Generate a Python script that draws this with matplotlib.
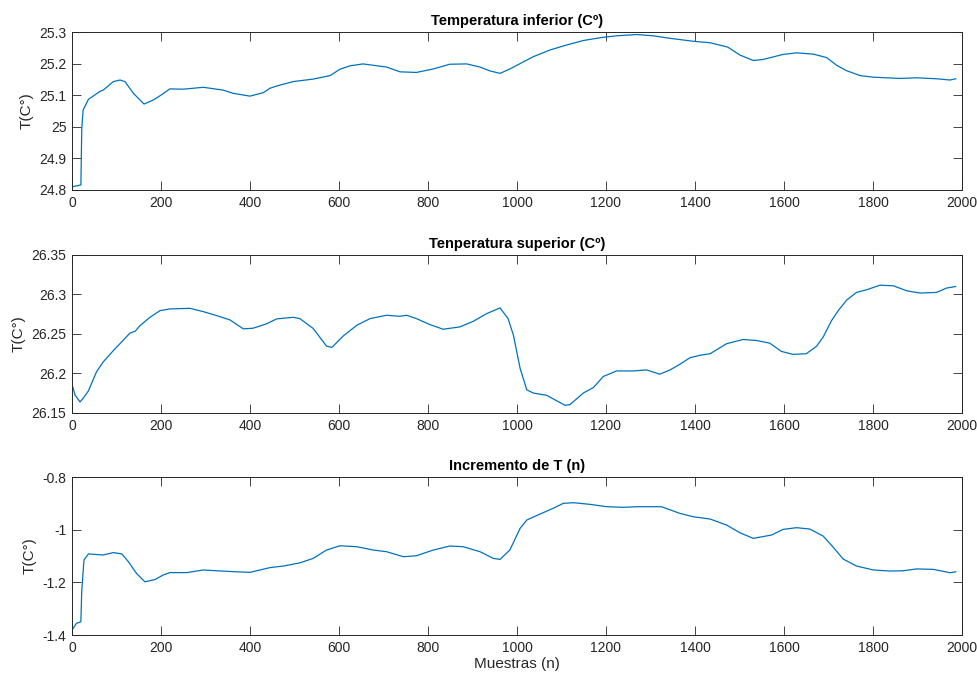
import matplotlib.pyplot as plt
from matplotlib.ticker import FuncFormatter

plt.rcParams['font.family'] = ['Liberation Sans', 'DejaVu Sans']

# Temperatura inferior
x_inf = [0, 20, 22, 25, 37, 63, 70, 93, 108, 119, 138, 162, 183, 202, 220, 250, 295,
         340, 362, 400, 430, 445, 460, 497, 542, 580, 602, 625, 654, 707, 737, 774, 812,
         849, 887, 917, 939, 962, 984, 1007, 1037, 1074, 1112, 1149, 1187, 1224, 1269,
         1306, 1344, 1400, 1434, 1474, 1501, 1531, 1553, 1598, 1628, 1666, 1696, 1718,
         1740, 1771, 1801, 1861, 1898, 1943, 1973, 1986]
y_inf = [24.81, 24.816, 24.995, 25.053, 25.087, 25.112, 25.116, 25.143, 25.148, 25.143,
         25.106, 25.072, 25.085, 25.102, 25.12, 25.119, 25.125, 25.116, 25.106, 25.097,
         25.108, 25.122, 25.129, 25.143, 25.151, 25.162, 25.182, 25.193, 25.199, 25.189,
         25.174, 25.172, 25.183, 25.198, 25.199, 25.189, 25.177, 25.169, 25.183, 25.2,
         25.222, 25.243, 25.259, 25.273, 25.282, 25.288, 25.292, 25.288, 25.28, 25.27,
         25.266, 25.252, 25.227, 25.21, 25.213, 25.229, 25.234, 25.23, 25.219, 25.195,
         25.178, 25.162, 25.157, 25.153, 25.155, 25.152, 25.148, 25.152]

# Temperatura superior
x_sup = [0, 7, 18, 25, 37, 55, 70, 93, 115, 130, 142, 153, 175, 198, 220, 265, 295,
         325, 355, 385, 407, 437, 460, 497, 512, 542, 572, 584, 610, 640, 670, 707, 737,
         752, 774, 804, 834, 872, 902, 932, 962, 980, 992, 1007, 1022, 1037, 1067, 1089,
         1108, 1119, 1149, 1172, 1194, 1224, 1261, 1291, 1321, 1344, 1366, 1389, 1411,
         1434, 1471, 1508, 1538, 1568, 1594, 1620, 1650, 1673, 1688, 1707, 1722, 1741,
         1763, 1786, 1816, 1846, 1876, 1906, 1943, 1965, 1986]
y_sup = [26.1865, 26.1726, 26.164, 26.1685, 26.178, 26.202, 26.2145, 26.229, 26.242,
         26.251, 26.2535, 26.2607, 26.271, 26.2796, 26.2817, 26.2825, 26.2783, 26.2733,
         26.2678, 26.2565, 26.2573, 26.2628, 26.2691, 26.2711, 26.2695, 26.257, 26.2347,
         26.233, 26.2477, 26.261, 26.2695, 26.2737, 26.2724, 26.2737, 26.2695, 26.262,
         26.256, 26.259, 26.2661, 26.2758, 26.283, 26.2695, 26.2485, 26.2066, 26.1793,
         26.1752, 26.1723, 26.1655, 26.1597, 26.1605, 26.1752, 26.1823, 26.1962, 26.2032,
         26.2032, 26.2045, 26.1991, 26.2045, 26.2116, 26.22, 26.223, 26.225, 26.2377,
         26.243, 26.2418, 26.2384, 26.228, 26.2242, 26.225, 26.2343, 26.246, 26.267,
         26.2796, 26.293, 26.3026, 26.306, 26.3118, 26.311, 26.3047, 26.3018, 26.3026,
         26.3081, 26.3101]

# Incremento de T
x_inc = [0, 10, 20, 22, 27, 37, 70, 93, 112, 127, 145, 164, 187, 205, 220, 258, 295,
         325, 370, 400, 445, 475, 512, 542, 572, 602, 640, 677, 707, 745, 774, 812, 849,
         879, 917, 947, 962, 984, 1007, 1022, 1052, 1081, 1104, 1127, 1164, 1202, 1239,
         1269, 1299, 1325, 1366, 1396, 1434, 1471, 1501, 1531, 1572, 1598, 1628, 1658,
         1688, 1711, 1733, 1763, 1801, 1838, 1868, 1898, 1936, 1973, 1986]
y_inc = [-1.381, -1.3557, -1.3495, -1.229, -1.115, -1.092, -1.096, -1.087, -1.092,
         -1.122, -1.166, -1.198, -1.189, -1.172, -1.163, -1.163, -1.153, -1.156, -1.16,
         -1.162, -1.144, -1.138, -1.126, -1.109, -1.0772, -1.061, -1.0646, -1.0772,
         -1.0836, -1.1027, -1.099, -1.0772, -1.062, -1.0646, -1.0836, -1.109, -1.1127,
         -1.0772, -0.995, -0.9633, -0.9405, -0.919, -0.9, -0.8975, -0.9037, -0.9127,
         -0.915, -0.9127, -0.9127, -0.9127, -0.938, -0.9507, -0.9595, -0.9823, -1.0115,
         -1.0329, -1.0203, -0.9988, -0.9924, -0.9975, -1.024, -1.067, -1.1114, -1.138,
         -1.153, -1.157, -1.156, -1.149, -1.1507, -1.1634, -1.16]

titles = ['Temperatura inferior (Cº)', 'Tenperatura superior (Cº)', 'Incremento de T (n)']
ylims = [(24.8, 25.3), (26.15, 26.35), (-1.4, -0.8)]
yticks = [[24.8, 24.9, 25.0, 25.1, 25.2, 25.3],
          [26.15, 26.2, 26.25, 26.3, 26.35],
          [-1.4, -1.2, -1.0, -0.8]]
xticks = list(range(0, 2001, 200))

series = [(x_inf, y_inf), (x_sup, y_sup), (x_inc, y_inc)]
bottoms = [0.7198, 0.3909, 0.0634]

fig = plt.figure(figsize=(9.78, 6.78), dpi=100)
fmt = FuncFormatter(lambda v, p: ('%g' % round(v, 4)))
dark = '#262626'

for i in range(3):
    ax = fig.add_axes([0.0736, bottoms[i], 0.910, 0.233])
    xs, ys = series[i]
    ax.plot(xs, ys, color='#0072BD', lw=0.9)
    ax.set_xlim(0, 2000)
    ax.set_ylim(*ylims[i])
    ax.set_xticks(xticks)
    ax.set_yticks(yticks[i])
    ax.yaxis.set_major_formatter(fmt)
    ax.tick_params(direction='in', top=True, right=True, length=6.5, width=0.6,
                   labelsize=10, colors=dark, pad=4)
    for s in ax.spines.values():
        s.set_linewidth(0.7)
        s.set_color(dark)
    ax.set_title(titles[i], fontsize=10.5, fontweight='bold', color='black', pad=5)
    ax.set_ylabel('T(C°)', fontsize=11, color=dark, labelpad=4)
    if i == 2:
        ax.set_xlabel('Muestras (n)', fontsize=11, color=dark, labelpad=2)

fig.savefig('out.png', dpi=100)
